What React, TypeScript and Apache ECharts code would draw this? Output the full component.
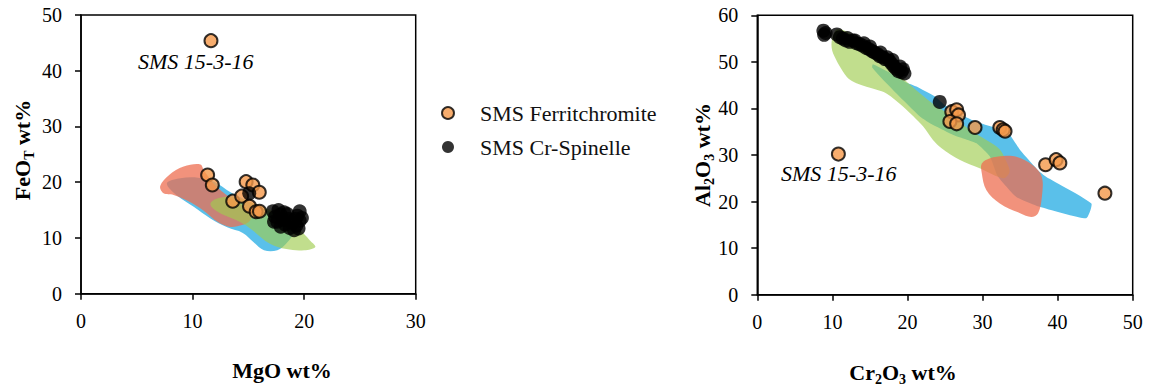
import React, { useEffect, useRef } from "react";
import * as echarts from "echarts";

// ---------- Data ----------
// Left panel: [MgO wt%, FeOT wt%]
const ferriMgFe: number[][] = [
  [11.65, 45.4], [11.35, 21.3], [11.77, 19.5], [13.6, 16.6], [14.8, 20.1],
  [15.4, 19.5], [14.4, 17.5], [15.98, 18.2], [15.1, 15.7], [15.7, 14.7], [16.0, 14.8],
];
const spinMgFe: number[][] = [
  [15.08, 18.0], [17.2, 14.8], [17.4, 13.8], [17.7, 15.0], [17.9, 14.2], [17.6, 12.9],
  [18.1, 13.3], [18.3, 12.4], [18.5, 14.3], [18.7, 11.8], [18.9, 12.8], [19.1, 11.4],
  [19.3, 12.2], [19.5, 11.7], [19.6, 13.1], [19.4, 14.0], [19.6, 14.8], [19.8, 13.6],
  [19.2, 13.4], [18.6, 13.4], [17.9, 12.0], [18.2, 14.6], [17.3, 12.9],
];
// Right panel: [Cr2O3 wt%, Al2O3 wt%]
const ferriCrAl: number[][] = [
  [10.8, 30.2], [25.9, 39.3], [26.55, 39.7], [26.8, 38.6], [25.65, 37.2], [26.55, 36.7],
  [29.0, 35.9], [32.3, 35.9], [32.75, 35.4], [33.0, 35.1], [38.4, 27.9], [39.8, 29.0],
  [40.3, 28.3], [46.3, 21.8],
];
const spinCrAl: number[][] = [
  [8.8, 56.7], [8.9, 55.8], [9.1, 56.2], [10.6, 55.9], [11.0, 55.3], [11.4, 55.0],
  [11.8, 54.6], [12.3, 54.3], [12.7, 54.6], [13.2, 54.0], [13.6, 53.8], [14.0, 53.5],
  [14.2, 54.0], [14.5, 53.0], [14.9, 52.7], [15.3, 52.3], [15.6, 52.0], [16.0, 51.7],
  [16.3, 51.2], [16.7, 51.0], [17.0, 50.6], [17.3, 51.0], [17.6, 50.2], [17.9, 49.6],
  [18.2, 49.0], [18.5, 48.5], [18.8, 48.0], [19.2, 47.8], [19.6, 47.5], [19.4, 48.4],
  [12.0, 55.1], [13.0, 54.6], [15.0, 53.3], [16.4, 52.0], [18.0, 50.4], [19.0, 49.0],
  [24.3, 41.4],
];

// Field outlines (left panel)
const leftBlueField: number[][] = [
  [7.7, 19.8], [8.9, 20.7], [10.5, 20.8], [12.0, 20.0], [13.4, 18.2], [15.0, 16.6],
  [16.8, 14.8], [18.3, 13.0], [19.0, 11.0], [18.4, 9.0], [17.6, 7.8], [16.4, 7.8],
  [15.5, 9.2], [14.5, 10.9], [13.1, 11.9], [11.6, 13.5], [10.1, 15.6], [8.6, 17.6],
];
const leftRedField: number[][] = [
  [7.1, 19.3], [7.9, 21.3], [9.2, 22.8], [10.7, 23.2], [11.0, 22.2], [11.6, 20.5],
  [12.3, 18.9], [13.6, 16.9], [14.8, 15.4], [15.3, 14.0], [15.0, 12.8], [14.0, 12.1],
  [13.3, 12.0], [12.3, 12.8], [11.0, 14.9], [9.5, 16.7], [8.3, 17.7], [7.4, 18.0],
];
const leftGreenField: number[][] = [
  [11.6, 16.2], [12.2, 17.1], [13.4, 17.4], [14.6, 16.9], [16.0, 15.8], [17.5, 14.6],
  [18.5, 13.6], [19.6, 11.5], [20.5, 9.6], [21.0, 8.4], [20.0, 7.8], [18.4, 8.0],
  [16.9, 9.0], [15.1, 11.8], [13.9, 13.2], [12.8, 14.1], [11.9, 15.2],
];
// Field outlines (right panel)
const rightBlueField: number[][] = [
  [15.4, 49.5], [17.5, 47.8], [19.7, 45.7], [21.2, 44.7], [23.7, 42.5], [25.2, 40.4],
  [27.2, 38.6], [29.2, 37.1], [31.5, 36.0], [33.2, 35.2], [35.0, 31.1], [37.6, 26.4],
  [38.5, 25.3], [44.5, 19.6], [43.8, 16.4], [37.6, 18.9], [34.5, 21.0], [32.0, 25.5],
  [31.0, 29.6], [29.2, 32.5], [26.1, 34.3], [23.0, 36.8], [21.7, 38.2], [19.4, 41.8],
  [17.2, 45.4], [15.3, 48.8],
];
const rightGreenField: number[][] = [
  [10.6, 57.0], [12.5, 56.0], [15.0, 53.5], [17.5, 50.0], [19.4, 46.5], [21.7, 43.2],
  [23.9, 40.4], [26.1, 38.2], [28.3, 35.4], [30.5, 33.2], [32.3, 31.2], [33.2, 28.5],
  [33.6, 26.4], [32.8, 25.0], [29.7, 27.1], [27.0, 28.9], [24.5, 31.5], [23.4, 33.2],
  [22.1, 36.1], [19.4, 40.4], [17.2, 43.2], [15.9, 44.0], [13.2, 45.4], [11.9, 46.8],
  [10.1, 51.8], [9.9, 54.3],
];
const rightRedField: number[][] = [
  [29.9, 28.2], [31.0, 29.3], [32.8, 29.8], [34.5, 29.6], [36.7, 27.8], [37.9, 25.3],
  [37.9, 21.0], [37.4, 17.5], [36.5, 16.7], [35.0, 17.5], [32.3, 19.6], [30.5, 22.5],
  [29.9, 26.1],
];

const xTicksLeft = [0, 10, 20, 30];
const yTicksLeft = [0, 10, 20, 30, 40, 50];
const xTicksRight = [0, 10, 20, 30, 40, 50];
const yTicksRight = [0, 10, 20, 30, 40, 50, 60];

const seriesNames = ["SMS Ferritchromite", "SMS Cr-Spinelle"];
const sampleLabel = "SMS 15-3-16";

// ---------- Styles ----------
const FONT = "'Liberation Serif', 'Times New Roman', serif";
const BLUE = "rgba(90,192,234,1)";
const RED = "rgba(238,110,80,0.75)";
const GREEN = "rgba(160,205,80,0.65)";
const ORANGE = "#F5994A";

function fieldSeries(idx: number, pts: number[][], fill: string, smooth: number) {
  return {
    type: "custom",
    xAxisIndex: idx,
    yAxisIndex: idx,
    silent: true,
    z: 1,
    data: pts,
    encode: { x: 0, y: 1 },
    renderItem: (params: any, api: any) => {
      if (params.dataIndex !== 0) return null;
      const points = pts.map((p) => api.coord(p));
      return {
        type: "polygon",
        shape: { points, smooth },
        style: { fill },
      };
    },
  };
}

function axisCommon(min: number, max: number) {
  return {
    type: "value",
    min,
    max,
    interval: 10,
    splitLine: { show: false },
    axisLine: { show: true, onZero: false, lineStyle: { color: "#000", width: 1.5 } },
    axisTick: { show: true, inside: false, length: 6, lineStyle: { color: "#000", width: 1.5 } },
  };
}

export default function App() {
  const ref = useRef<HTMLDivElement>(null);
  useEffect(() => {
    if (!ref.current) return;
    const chart = echarts.init(ref.current, null, { renderer: "svg" });
    const xl = axisCommon(xTicksLeft[0], xTicksLeft[xTicksLeft.length - 1]);
    const yl = axisCommon(yTicksLeft[0], yTicksLeft[yTicksLeft.length - 1]);
    const xr = axisCommon(xTicksRight[0], xTicksRight[xTicksRight.length - 1]);
    const yr = axisCommon(yTicksRight[0], yTicksRight[yTicksRight.length - 1]);
    const xLabel = { color: "#000", fontFamily: FONT, fontSize: 20, margin: 17 };
    const yLabel = { color: "#000", fontFamily: FONT, fontSize: 20, margin: 19 };
    const titleRich = {
      b: { fontFamily: FONT, fontSize: 22, fontWeight: "bold", color: "#000", verticalAlign: "top", lineHeight: 22 },
      s: { fontFamily: FONT, fontSize: 14, fontWeight: "bold", color: "#000", verticalAlign: "top", lineHeight: 14, padding: [11, 0, 0, 0] },
    };
    const option: any = {
      animation: false,
      backgroundColor: "#fff",
      grid: [
        { left: 81, top: 15, width: 334.7, height: 278.7, show: true, borderColor: "#000", borderWidth: 1.5, backgroundColor: "transparent" },
        { left: 757.3, top: 15.3, width: 375.4, height: 279.4, show: true, borderColor: "#000", borderWidth: 1.5, backgroundColor: "transparent" },
      ],
      xAxis: [
        { ...xl, gridIndex: 0, axisLabel: xLabel },
        { ...xr, gridIndex: 1, axisLabel: xLabel },
      ],
      yAxis: [
        { ...yl, gridIndex: 0, axisLabel: yLabel },
        { ...yr, gridIndex: 1, axisLabel: yLabel },
      ],
      legend: {
        orient: "vertical",
        left: 436,
        top: 97,
        itemWidth: 38,
        itemHeight: 12,
        itemGap: 12,
        selectedMode: false,
        data: seriesNames,
        textStyle: { fontFamily: FONT, fontSize: 22, color: "#111", padding: [0, 0, 0, 8] },
      },
      series: [
        fieldSeries(0, leftBlueField, BLUE, 0.35),
        fieldSeries(0, leftRedField, RED, 0.35),
        fieldSeries(0, leftGreenField, GREEN, 0.35),
        fieldSeries(1, rightBlueField, BLUE, 0.15),
        fieldSeries(1, rightGreenField, GREEN, 0.3),
        fieldSeries(1, rightRedField, RED, 0.35),
        {
          name: seriesNames[0], type: "scatter", xAxisIndex: 0, yAxisIndex: 0, z: 3,
          data: ferriMgFe, symbol: "circle", symbolSize: 13,
          itemStyle: { color: ORANGE, borderColor: "#000", borderWidth: 2 },
        },
        {
          name: seriesNames[1], type: "scatter", xAxisIndex: 0, yAxisIndex: 0, z: 3,
          data: spinMgFe, symbol: "circle", symbolSize: 14,
          itemStyle: { color: "#000" },
        },
        {
          name: seriesNames[0], type: "scatter", xAxisIndex: 1, yAxisIndex: 1, z: 3,
          data: ferriCrAl, symbol: "circle", symbolSize: 13,
          itemStyle: { color: ORANGE, borderColor: "#000", borderWidth: 2 },
        },
        {
          name: seriesNames[1], type: "scatter", xAxisIndex: 1, yAxisIndex: 1, z: 3,
          data: spinCrAl, symbol: "circle", symbolSize: 14,
          itemStyle: { color: "#000" },
        },
      ],
      graphic: [
        {
          type: "text", left: 138, top: 50, z: 10,
          style: { text: sampleLabel, fontFamily: FONT, fontSize: 22, fontStyle: "italic", fill: "#000" },
        },
        {
          type: "text", left: 781, top: 162, z: 10,
          style: { text: sampleLabel, fontFamily: FONT, fontSize: 22, fontStyle: "italic", fill: "#000" },
        },
        {
          type: "text", x: 282, y: 370, z: 10,
          style: { text: "{b|MgO wt%}", rich: titleRich, align: "center", verticalAlign: "middle" },
        },
        {
          type: "text", x: 903, y: 372, z: 10,
          style: { text: "{b|Cr}{s|2}{b|O}{s|3}{b| wt%}", rich: titleRich, align: "center", verticalAlign: "middle" },
        },
        {
          type: "text", x: 22, y: 150, rotation: Math.PI / 2, z: 10,
          style: { text: "{b|FeO}{s|T}{b| wt%}", rich: titleRich, align: "center", verticalAlign: "middle" },
        },
        {
          type: "text", x: 702, y: 155, rotation: Math.PI / 2, z: 10,
          style: { text: "{b|Al}{s|2}{b|O}{s|3}{b| wt%}", rich: titleRich, align: "center", verticalAlign: "middle" },
        },
      ],
    };
    chart.setOption(option);
    return () => chart.dispose();
  }, []);
  return (
    <div
      ref={ref}
      style={{ position: "absolute", left: 0, top: 0, width: 1152, height: 387, background: "#fff" }}
    />
  );
}
